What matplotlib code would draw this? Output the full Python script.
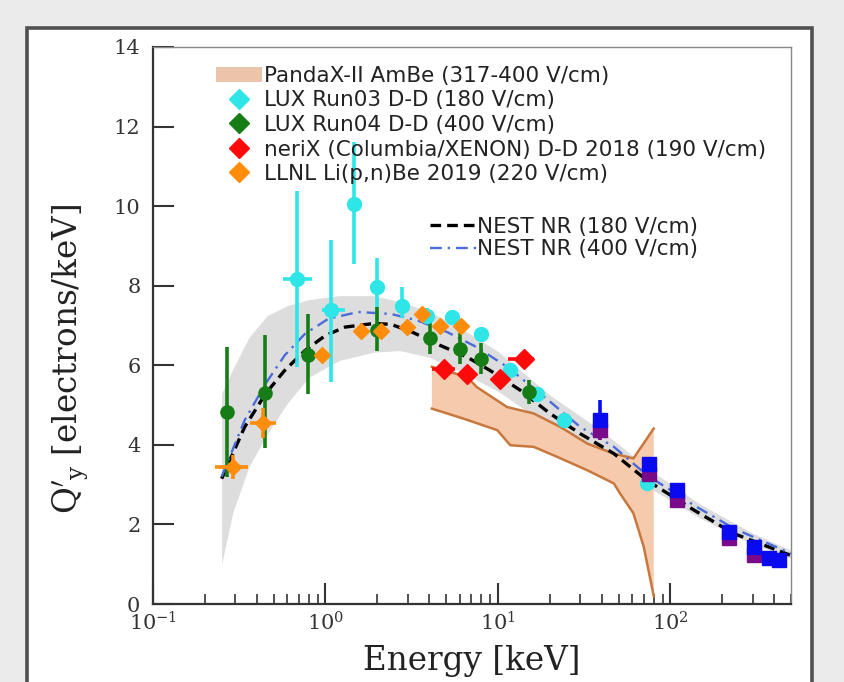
import numpy as np
import matplotlib.pyplot as plt
from matplotlib.patches import Rectangle, Patch
from matplotlib.lines import Line2D

plt.rcParams['font.family'] = 'DejaVu Serif'
plt.rcParams['mathtext.fontset'] = 'dejavuserif'

# NEST curves (keV, electrons/keV)
nest180_x = [0.25, 0.34, 0.45, 0.58, 0.76, 1.0, 1.3, 1.9, 2.4, 3.2, 4.4, 6.6, 9.0, 13.5, 20, 30, 47, 73, 137, 233, 500]
nest180_y = [3.15, 4.45, 5.29, 5.87, 6.37, 6.75, 6.96, 7.05, 7.03, 6.83, 6.54, 6.21, 5.87, 5.37, 4.79, 4.28, 3.78, 3.11, 2.36, 1.77, 1.22]
nest400_x = [0.25, 0.34, 0.45, 0.58, 0.76, 1.04, 1.55, 2.4, 3.4, 5.1, 7.5, 11.3, 17.6, 30, 47, 73, 137, 233, 500]
nest400_y = [3.2, 4.62, 5.54, 6.25, 6.79, 7.17, 7.34, 7.29, 7.13, 6.83, 6.46, 5.96, 5.29, 4.45, 3.95, 3.24, 2.48, 1.90, 1.27]

# NEST uncertainty band
band_x = [0.25, 0.29, 0.36, 0.46, 0.6, 0.8, 1.2, 1.9, 2.7, 4.0, 6.0, 10, 20, 40, 80, 150, 300, 500]
band_hi = [5.3, 5.9, 6.7, 7.25, 7.5, 7.65, 7.75, 7.75, 7.6, 7.35, 6.95, 6.35, 5.25, 4.35, 3.3, 2.5, 1.78, 1.35]
band_lo = [1.0, 2.3, 3.45, 4.28, 5.04, 5.70, 6.12, 6.33, 6.37, 6.2, 5.85, 5.35, 4.45, 3.75, 2.85, 2.15, 1.5, 1.15]

# PandaX-II AmBe band
pandax_up_x = [4.14, 6.6, 7.55, 11.3, 16.1, 23, 33, 47, 61, 80]
pandax_up_y = [5.96, 5.71, 5.45, 4.95, 4.79, 4.45, 4.03, 3.78, 3.66, 4.41]
pandax_lo_x = [4.14, 6.3, 9.9, 11.8, 16.1, 22, 33, 47, 51, 61, 70, 80]
pandax_lo_y = [4.91, 4.66, 4.37, 3.99, 3.95, 3.70, 3.36, 3.03, 2.78, 2.28, 1.44, 0.2]

# LUX Run03 D-D
lux3_x = [0.688, 1.08, 1.47, 1.99, 2.77, 3.87, 5.41, 8.0, 11.8, 16.9, 24, 73.3]
lux3_y = [8.17, 7.38, 10.06, 7.96, 7.48, 7.25, 7.21, 6.79, 5.87, 5.27, 4.62, 3.03]
lux3_elo = [2.21, 1.80, 1.51, 0.83, 0.28, 0.2, 0.15, 0.15, 0.1, 0.1, 0.1, 0.1]
lux3_ehi = [2.22, 1.77, 1.54, 0.74, 0.50, 0.2, 0.15, 0.15, 0.1, 0.1, 0.1, 0.1]
lux3_xlo = [0.565, 0.96, 1.47, 1.99, 2.77, 3.87, 5.41, 8.0, 11.8, 16.9, 24, 73.3]
lux3_xhi = [0.83, 1.29, 1.47, 1.99, 2.77, 3.87, 5.41, 8.0, 11.8, 16.9, 24, 73.3]

# LUX Run04 D-D
lux4_x = [0.27, 0.447, 0.79, 1.99, 4.02, 6.0, 8.0, 15.1]
lux4_y = [4.83, 5.30, 6.27, 6.89, 6.69, 6.42, 6.17, 5.33]
lux4_elo = [1.63, 1.39, 0.98, 0.52, 0.4, 0.4, 0.4, 0.3]
lux4_ehi = [1.63, 1.45, 1.03, 0.57, 0.4, 0.4, 0.4, 0.3]

# neriX
nerix_x = [4.84, 6.6, 10.3, 14.1]
nerix_y = [5.91, 5.79, 5.66, 6.17]
nerix_xlo = [4.14, 6.1, 9.6, 11.5]
nerix_xhi = [5.6, 7.1, 11.0, 16.1]

# LLNL Li(p,n)Be
llnl_x = [0.29, 0.437, 0.95, 1.6, 2.1, 2.95, 3.62, 4.63, 6.1]
llnl_y = [3.45, 4.55, 6.27, 6.85, 6.87, 6.95, 7.29, 7.0, 6.98]
llnl_err = [0.3, 0.38, 0.15, 0.12, 0.12, 0.12, 0.12, 0.12, 0.12]
llnl_xlo = [0.229, 0.366, 0.9, 1.6, 2.1, 2.95, 3.62, 4.63, 6.1]
llnl_xhi = [0.356, 0.52, 1.0, 1.6, 2.1, 2.95, 3.62, 4.63, 6.1]

# high-energy squares
blue_x = [39.3, 75.4, 109, 218, 305, 373, 426]
blue_y = [4.62, 3.53, 2.86, 1.81, 1.44, 1.15, 1.10]
blue_ehi = [0.52, 0.1, 0.1, 0.05, 0.05, 0.05, 0.05]
purple_x = [39.3, 75.4, 109, 218, 305]
purple_y = [4.37, 3.28, 2.61, 1.65, 1.23]
purple_elo = [0.25, 0.05, 0.05, 0.05, 0.05]


def xerr_of(x, lo, hi):
    x = np.array(x)
    return [x - np.array(lo), np.array(hi) - x]


fig = plt.figure(figsize=(8.45, 6.82), dpi=100)
fig.patch.set_facecolor('#ebebeb')
fig.patches.append(Rectangle((27 / 845, -0.05), 785 / 845, 654 / 682 + 0.05,
                             transform=fig.transFigure, facecolor='white',
                             edgecolor='#505050', lw=2.6, zorder=-10))

ax = fig.add_axes([153 / 845, 1 - 604 / 682, 638 / 845, 557 / 682])
ax.set_zorder(5)
ax.set_xscale('log')
ax.set_xlim(0.1, 500)
ax.set_ylim(0, 14)

ax.fill_between(band_x, band_lo, band_hi, color='#dddddd', lw=0, zorder=1)

ax.fill(np.r_[pandax_up_x, pandax_lo_x[::-1]], np.r_[pandax_up_y, pandax_lo_y[::-1]],
        color='#f5caad', lw=0, zorder=2)
ax.plot(pandax_up_x, pandax_up_y, color='#c8783c', lw=1.8, zorder=2)
ax.plot(pandax_lo_x, pandax_lo_y, color='#c8783c', lw=1.8, zorder=2)

ax.plot(nest180_x, nest180_y, color='black', lw=2.4, dashes=(3.2, 1.8), zorder=3)
ax.plot(nest400_x, nest400_y, color='#4a6bd8', lw=1.7, dashes=(5, 2.5, 1, 2.5), zorder=3)

ekw = dict(capsize=0, elinewidth=2.6, zorder=5, linestyle='none')
ax.errorbar(lux3_x, lux3_y, yerr=[lux3_elo, lux3_ehi], xerr=xerr_of(lux3_x, lux3_xlo, lux3_xhi),
            fmt='o', color='#2ee5e8', ms=10, **ekw)
ax.errorbar(lux4_x, lux4_y, yerr=[lux4_elo, lux4_ehi], fmt='o', color='#167d16', ms=9.5, **ekw)
ax.errorbar(llnl_x, llnl_y, yerr=llnl_err, xerr=xerr_of(llnl_x, llnl_xlo, llnl_xhi),
            fmt='D', color='#ff8c0a', ms=8.5, **ekw)
ax.errorbar(nerix_x, nerix_y, yerr=0.12, xerr=xerr_of(nerix_x, nerix_xlo, nerix_xhi),
            fmt='D', color='#ff0a0a', ms=10, **ekw)
ax.errorbar(purple_x, purple_y, yerr=[purple_elo, [0] * len(purple_x)], fmt='s',
            color='#7a0a8a', ms=9.5, **ekw)
ax.errorbar(blue_x, blue_y, yerr=[[0] * len(blue_x), blue_ehi], fmt='s',
            color='#0a0af0', ms=9.5, **ekw)

# axes styling
for side in ['top', 'right']:
    ax.spines[side].set_color('#888888')
    ax.spines[side].set_linewidth(1.0)
for side in ['left', 'bottom']:
    ax.spines[side].set_color('#333333')
    ax.spines[side].set_linewidth(1.6)

ax.set_yticks(np.arange(0, 15, 2))
ax.tick_params(axis='both', which='major', direction='in', length=15, width=1.5,
               color='#333333', labelcolor='#333333', labelsize=15)
ax.tick_params(axis='x', which='minor', direction='in', length=7, width=1.2, color='#333333')
ax.tick_params(axis='y', pad=9)
ax.tick_params(axis='x', pad=5)

ax.set_xlabel('Energy [keV]', fontsize=23.5, color='#222222', labelpad=8)
ax.set_ylabel(r"$\mathrm{Q}'_\mathrm{y}$ [electrons/keV]", fontsize=23.5, color='#222222')
ax.yaxis.set_label_coords(-0.097, 0.44)

# legends
lprop = {'family': 'DejaVu Sans', 'size': 15.5}
h1 = [Patch(facecolor='#ecc4aa', edgecolor='none'),
      Line2D([], [], marker='D', color='#2ee5e8', ms=10, ls='none'),
      Line2D([], [], marker='D', color='#167d16', ms=10, ls='none'),
      Line2D([], [], marker='D', color='#ff0a0a', ms=10, ls='none'),
      Line2D([], [], marker='D', color='#ff8c0a', ms=10, ls='none')]
l1 = ax.legend(h1, ['PandaX-II AmBe (317-400 V/cm)', 'LUX Run03 D-D (180 V/cm)',
                    'LUX Run04 D-D (400 V/cm)', 'neriX (Columbia/XENON) D-D 2018 (190 V/cm)',
                    'LLNL Li(p,n)Be 2019 (220 V/cm)'],
               loc='upper left', bbox_to_anchor=(0.099, 0.966), frameon=False, prop=lprop,
               borderpad=0, borderaxespad=0, handlelength=2.14, handletextpad=0.1,
               labelspacing=0.21)
for t in l1.get_texts():
    t.set_color('#222222')
ax.add_artist(l1)

h2 = [Line2D([], [], color='black', lw=2.4, dashes=(3.2, 1.8)),
      Line2D([], [], color='#4a6bd8', lw=1.7, dashes=(5, 2.5, 1, 2.5))]
l2 = ax.legend(h2, ['NEST NR (180 V/cm)', 'NEST NR (400 V/cm)'],
               loc='upper left', bbox_to_anchor=(0.434, 0.695), frameon=False, prop=lprop,
               borderpad=0, borderaxespad=0, handlelength=2.2, handletextpad=0.0,
               labelspacing=0.1)
for t in l2.get_texts():
    t.set_color('#222222')

fig.savefig('out.png', dpi=100, facecolor=fig.get_facecolor())
